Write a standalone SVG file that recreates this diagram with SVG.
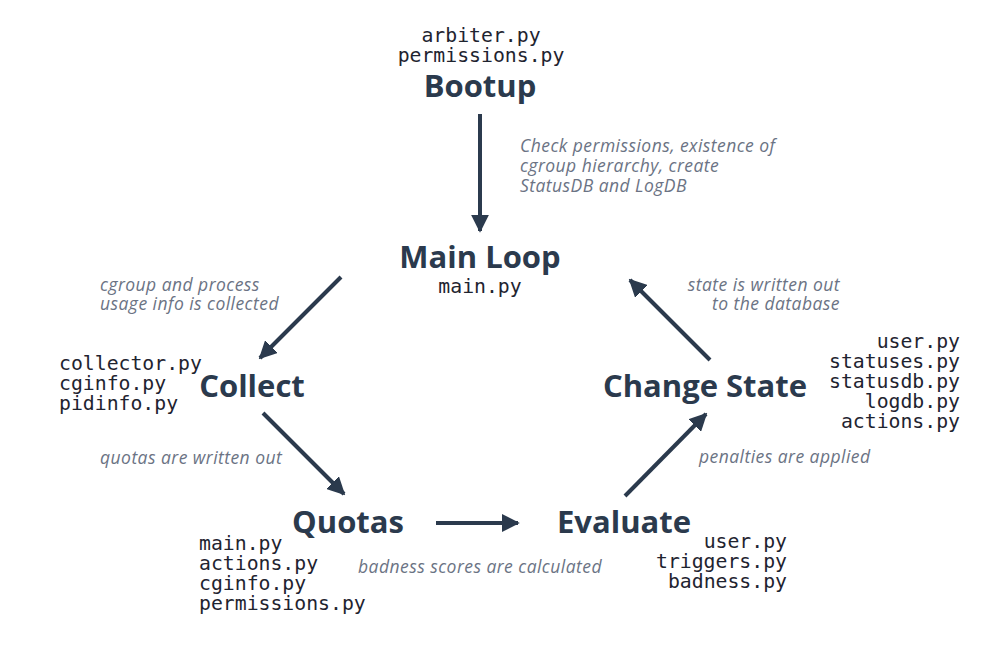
<svg xmlns="http://www.w3.org/2000/svg" width="1000" height="650" viewBox="0 0 1000 650">
<style>
.t{font-family:"Open Sans","Noto Sans",sans-serif;font-weight:bold;font-size:31px;fill:#2b3a4d}
.m{font-family:"DejaVu Sans Mono","Liberation Mono",monospace;font-size:19.8px;fill:#1f2430}
.i{font-family:"Open Sans","Noto Sans",sans-serif;font-style:italic;font-size:17.5px;letter-spacing:0.45px;fill:#6b7384}
.c{text-anchor:middle}
.e{text-anchor:end}
.a{stroke:#2b3a4d;stroke-width:4;fill:none;marker-end:url(#h)}
</style>
<defs>
<marker id="h" viewBox="0 0 10 10" refX="9" refY="5" markerWidth="4.5" markerHeight="4.5" orient="auto" markerUnits="strokeWidth">
<path d="M0,0 L10,5 L0,10 z" fill="#2b3a4d"/>
</marker>
</defs>
<rect width="1000" height="650" fill="#ffffff"/>
<g id="connectors">
<line class="a" x1="480" y1="114" x2="480" y2="231"/>
<line class="a" x1="341" y1="277" x2="260" y2="358"/>
<line class="a" x1="263" y1="413" x2="344" y2="494"/>
<line class="a" x1="436" y1="523" x2="518" y2="523"/>
<line class="a" x1="625" y1="496" x2="706" y2="414"/>
<line class="a" x1="710" y1="360" x2="630" y2="280"/>
<text class="i" x="520" y="152">Check permissions, existence of</text>
<text class="i" x="520" y="172">cgroup hierarchy, create</text>
<text class="i" x="520" y="192">StatusDB and LogDB</text>
<text class="i" x="100" y="291">cgroup and process</text>
<text class="i" x="100" y="310">usage info is collected</text>
<text class="i e" x="840" y="291">state is written out</text>
<text class="i e" x="840" y="310">to the database</text>
<text class="i" x="100" y="464">quotas are written out</text>
<text class="i c" x="480" y="573">badness scores are calculated</text>
<text class="i" x="699" y="463">penalties are applied</text>
</g>
<g id="bootup">
<text class="m c" x="481" y="42">arbiter.py</text>
<text class="m c" x="481" y="62">permissions.py</text>
<text class="t c" x="480" y="97">Bootup</text>
</g>
<g id="mainloop">
<text class="t c" x="480" y="268">Main Loop</text>
<text class="m c" x="480" y="293">main.py</text>
</g>
<g id="collect">
<text class="t c" x="252" y="397">Collect</text>
<text class="m" x="59" y="370">collector.py</text>
<text class="m" x="59" y="390">cginfo.py</text>
<text class="m" x="59" y="410">pidinfo.py</text>
</g>
<g id="changestate">
<text class="t c" x="705" y="397">Change State</text>
<text class="m e" x="960" y="348">user.py</text>
<text class="m e" x="960" y="368">statuses.py</text>
<text class="m e" x="960" y="388">statusdb.py</text>
<text class="m e" x="960" y="408">logdb.py</text>
<text class="m e" x="960" y="428">actions.py</text>
</g>
<g id="quotas">
<text class="t c" x="348" y="533">Quotas</text>
<text class="m" x="199" y="550">main.py</text>
<text class="m" x="199" y="570">actions.py</text>
<text class="m" x="199" y="590">cginfo.py</text>
<text class="m" x="199" y="610">permissions.py</text>
</g>
<g id="evaluate">
<text class="t c" x="624" y="533">Evaluate</text>
<text class="m e" x="787" y="548">user.py</text>
<text class="m e" x="787" y="568">triggers.py</text>
<text class="m e" x="787" y="588">badness.py</text>
</g>
</svg>
